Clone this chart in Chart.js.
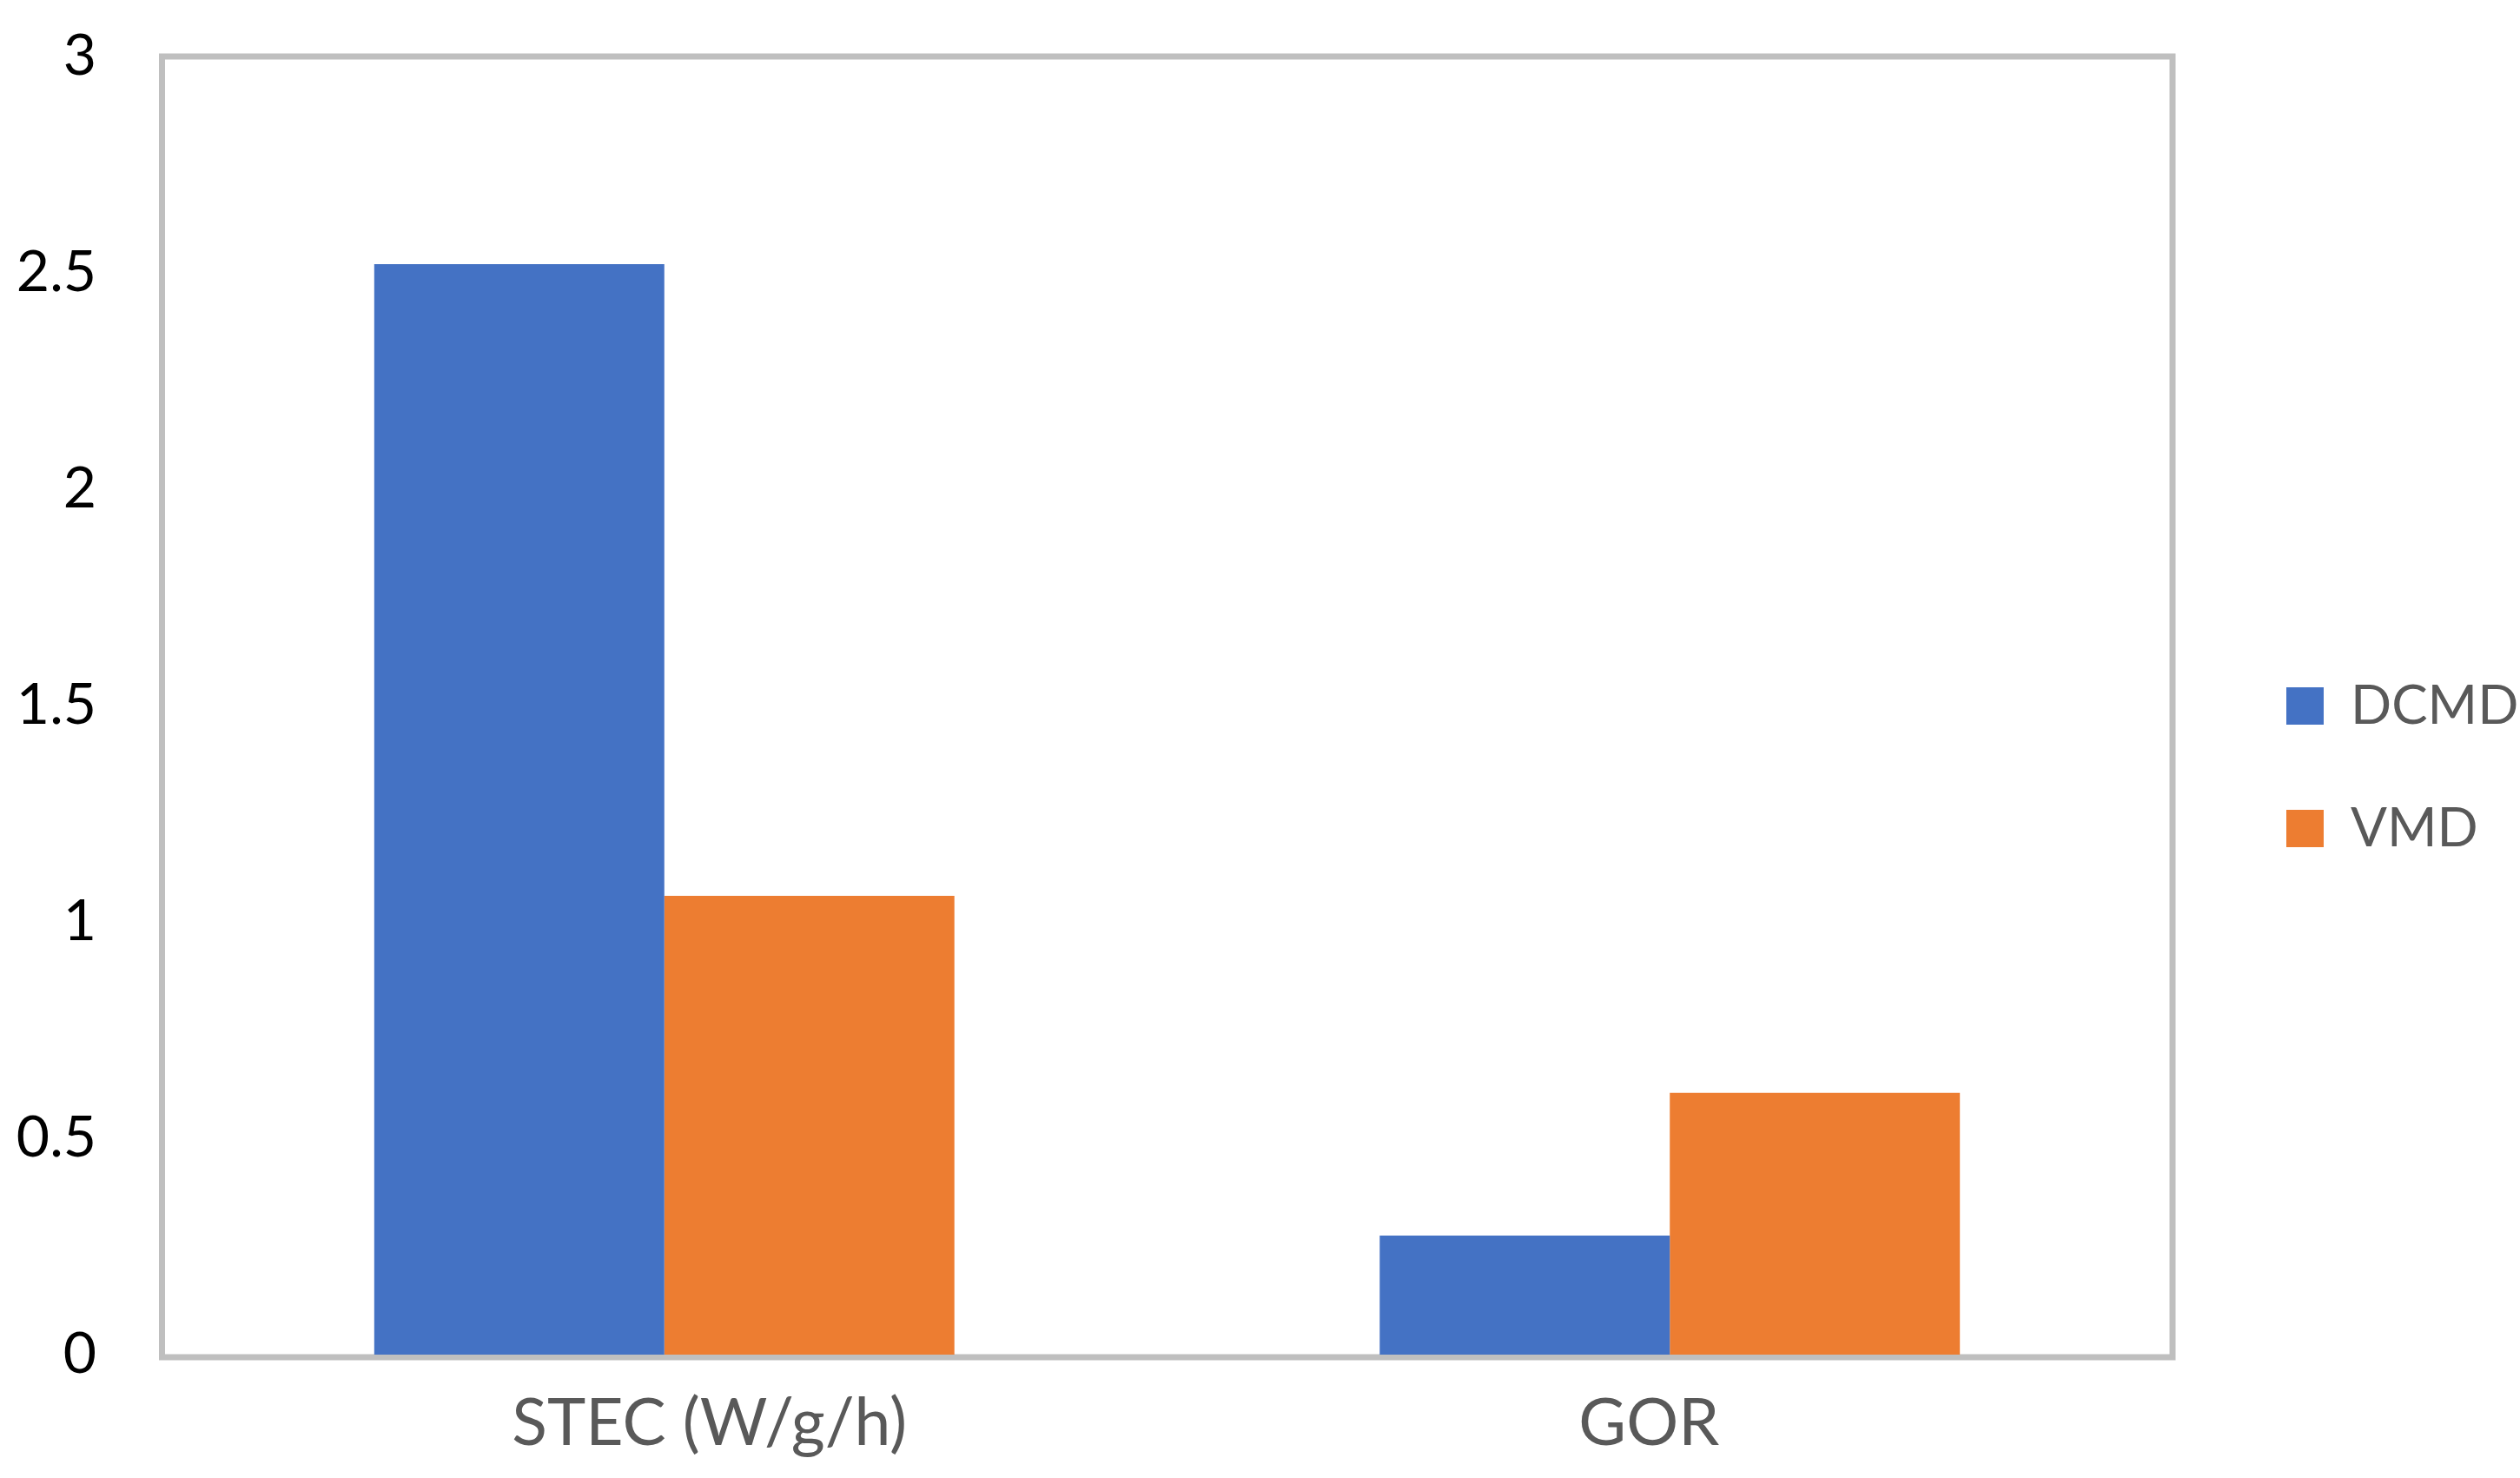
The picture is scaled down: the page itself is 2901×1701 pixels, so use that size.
<!DOCTYPE html>
<html>
<head>
<meta charset="utf-8">
<script src="https://cdn.jsdelivr.net/npm/chart.js@4/dist/chart.umd.min.js"></script>
<style>
  html, body { margin: 0; padding: 0; background: #ffffff; }
  #wrap { width: 2901px; height: 1701px; }
</style>
</head>
<body>
<div id="wrap"><canvas id="c" width="2901" height="1701"></canvas></div>
<script>
// ---- data ----
const categories = ['STEC (W/g/h)', 'GOR'];
const seriesNames = ['DCMD', 'VMD'];
const dcmdValues = [2.52, 0.275];
const vmdValues = [1.06, 0.605];
const yTickLabels = ['0', '0.5', '1', '1.5', '2', '2.5', '3'];

// ---- styling / layout ----
const FONT = 'Lato';
const legendFontSize = 62;
const legendPad = 79;
const legendBox = 43;
const legendShift = 52;
const plotRight = 2501;
const xLabelNudge = [52, -24];

const mctx = document.createElement('canvas').getContext('2d');
mctx.font = 'normal 400 ' + legendFontSize + 'px ' + FONT;
const maxTextW = Math.max(...seriesNames.map(s => mctx.measureText(s).width));
const legendW = legendPad + legendBox + legendFontSize / 2 + maxTextW + 10;
const padRight = Math.max(0, 2901 - plotRight - legendW);

const framePlugin = {
  id: 'frame',
  beforeDatasetsDraw(chart) {
    const a = chart.chartArea;
    const ctx = chart.ctx;
    ctx.save();
    ctx.strokeStyle = '#BFBFBF';
    ctx.lineWidth = 7;
    ctx.strokeRect(a.left + 0.5, a.top, a.right - a.left - 0.5, a.bottom - a.top + 3);
    ctx.restore();
  }
};
const legendShiftPlugin = {
  id: 'legendShift',
  afterLayout(chart) {
    if (chart.legend) {
      chart.legend.left += legendShift;
      chart.legend.right += legendShift;
    }
  },
  beforeDraw(chart) {
    const xs = chart.scales.x;
    if (!xs || !xs.getLabelItems) return;
    const items = xs.getLabelItems();
    items.forEach((it, i) => {
      if (!it._nudged && it.options && it.options.translation) {
        it.options.translation[0] += (xLabelNudge[i] || 0);
        it._nudged = true;
      }
    });
  }
};

new Chart(document.getElementById('c'), {
  type: 'bar',
  data: {
    labels: categories,
    datasets: [
      { label: seriesNames[0], data: dcmdValues, backgroundColor: '#4472C4', borderWidth: 0 },
      { label: seriesNames[1], data: vmdValues, backgroundColor: '#ED7D31', borderWidth: 0 }
    ]
  },
  options: {
    responsive: false,
    animation: false,
    devicePixelRatio: 1,
    layout: { padding: { top: 65, right: padRight, bottom: 0, left: 0 } },
    datasets: { bar: { categoryPercentage: 0.577, barPercentage: 1.0 } },
    scales: {
      x: {
        grid: { display: false, drawTicks: false },
        border: { display: false },
        ticks: { color: '#595959', font: { family: FONT, size: 75 }, padding: 35, maxRotation: 0 },
        afterFit(scale) { scale.height = 142; }
      },
      y: {
        min: 0, max: 3,
        grid: { display: false, drawTicks: false },
        border: { display: false },
        ticks: {
          stepSize: 0.5,
          color: '#000000',
          font: { family: FONT, size: 66 },
          padding: 75,
          callback: (v, i) => yTickLabels[i]
        },
        afterFit(scale) {
          scale.width = 186;
          scale.paddingTop = 0;
          scale.paddingBottom = 0;
        }
      }
    },
    plugins: {
      legend: {
        position: 'right',
        labels: {
          boxWidth: legendBox,
          boxHeight: legendBox,
          padding: legendPad,
          color: '#595959',
          font: { family: FONT, size: legendFontSize }
        }
      },
      tooltip: { enabled: false }
    }
  },
  plugins: [framePlugin, legendShiftPlugin]
});
</script>
</body>
</html>
